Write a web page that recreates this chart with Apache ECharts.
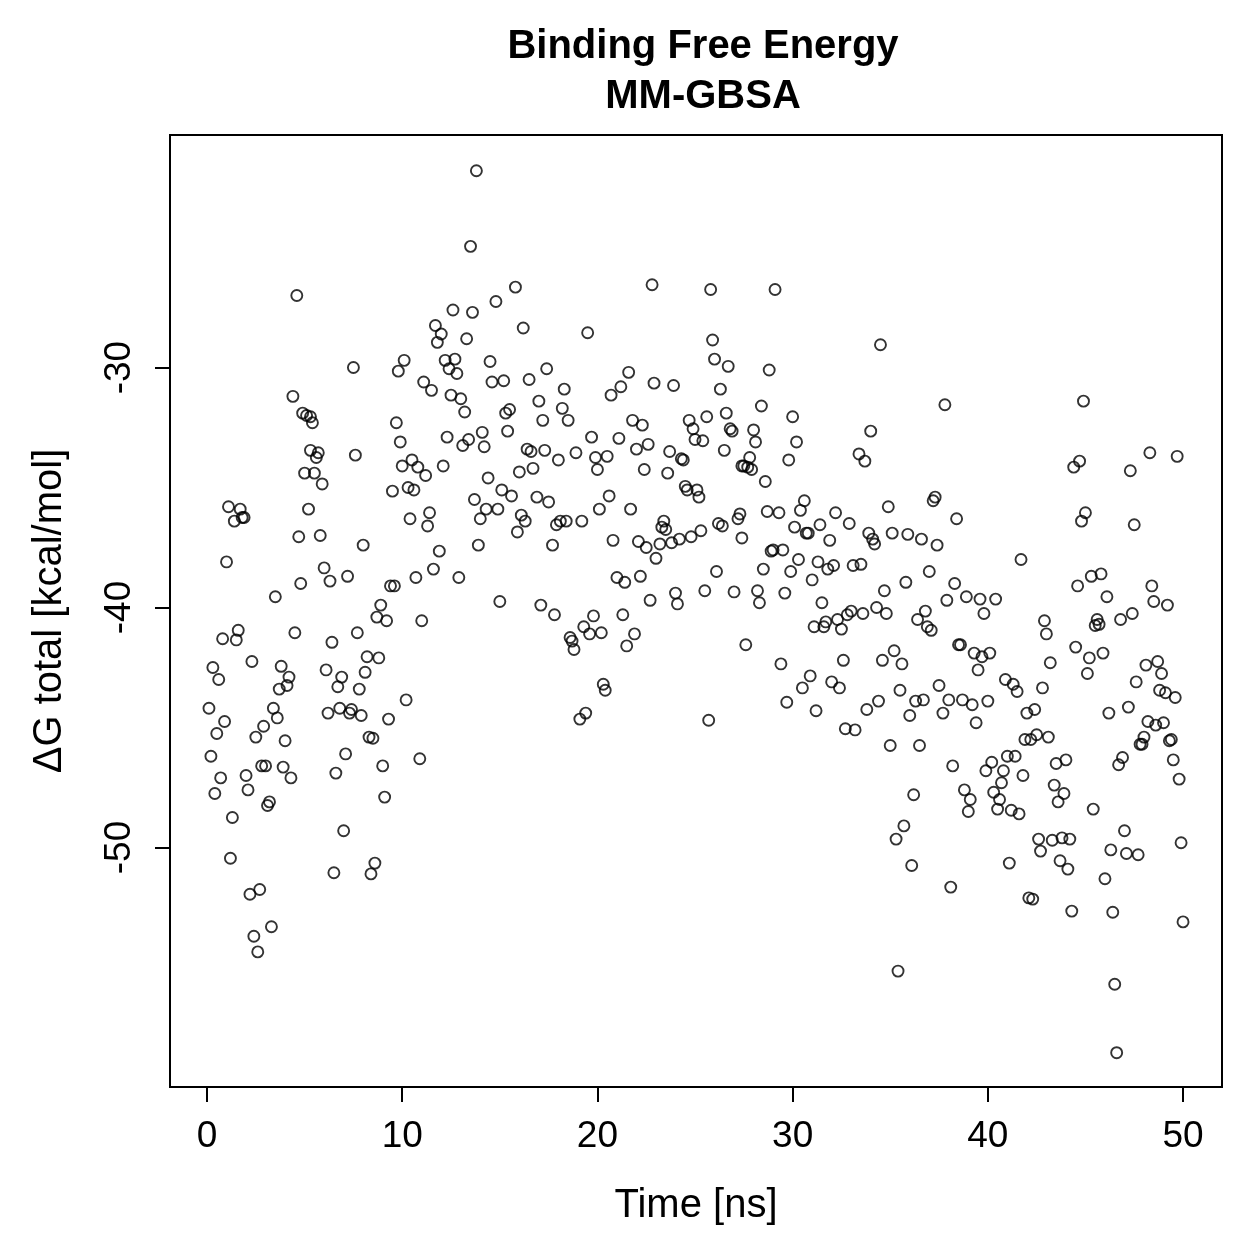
<!DOCTYPE html>
<html>
<head>
<meta charset="utf-8">
<title>Binding Free Energy MM-GBSA</title>
<script src="https://cdn.jsdelivr.net/npm/echarts@6/dist/echarts.min.js"></script>
<style>
  html, body { margin: 0; padding: 0; background: #fff; }
  #main { width: 1259px; height: 1259px; }
</style>
</head>
<body>
<div id="main"></div>
<script>
// time of each frame [ns]
var timeNs = [
  0.1,0.2,0.3,0.4,0.5,0.6,0.7,0.8,0.9,1.0,
  1.1,1.2,1.3,1.4,1.5,1.6,1.7,1.8,1.9,2.0,
  2.1,2.2,2.3,2.4,2.5,2.6,2.7,2.8,2.9,3.0,
  3.1,3.2,3.3,3.4,3.5,3.6,3.7,3.8,3.9,4.0,
  4.1,4.2,4.3,4.4,4.5,4.6,4.7,4.8,4.9,5.0,
  5.1,5.2,5.3,5.3,5.4,5.5,5.6,5.7,5.8,5.9,
  6.0,6.1,6.2,6.3,6.4,6.5,6.6,6.7,6.8,6.9,
  7.0,7.1,7.2,7.3,7.4,7.5,7.6,7.7,7.8,7.9,
  8.0,8.1,8.2,8.3,8.4,8.5,8.6,8.7,8.8,8.9,
  9.0,9.1,9.2,9.3,9.4,9.5,9.6,9.7,9.8,9.9,
  10.0,10.1,10.2,10.3,10.4,10.5,10.6,10.7,10.8,10.9,
  11.0,11.1,11.2,11.3,11.4,11.5,11.6,11.7,11.8,11.9,
  12.0,12.1,12.2,12.3,12.4,12.5,12.6,12.7,12.8,12.9,
  13.0,13.1,13.2,13.3,13.4,13.5,13.6,13.7,13.8,13.9,
  14.0,14.1,14.2,14.3,14.4,14.5,14.6,14.8,14.9,15.0,
  15.1,15.2,15.3,15.4,15.5,15.6,15.8,15.9,16.0,16.1,
  16.2,16.3,16.4,16.5,16.6,16.7,16.9,17.0,17.1,17.2,
  17.3,17.4,17.5,17.7,17.8,17.9,18.0,18.1,18.2,18.3,
  18.4,18.5,18.6,18.7,18.8,18.9,19.1,19.2,19.3,19.4,
  19.5,19.6,19.7,19.8,19.9,20.0,20.1,20.2,20.3,20.4,
  20.5,20.6,20.7,20.8,21.0,21.1,21.2,21.3,21.4,21.5,
  21.6,21.7,21.8,21.9,22.0,22.1,22.2,22.3,22.4,22.5,
  22.6,22.7,22.8,22.9,23.0,23.2,23.3,23.4,23.5,23.6,
  23.7,23.8,23.9,24.0,24.1,24.2,24.3,24.4,24.5,24.6,
  24.7,24.8,24.9,25.0,25.1,25.2,25.3,25.4,25.5,25.6,
  25.7,25.8,25.9,26.0,26.1,26.2,26.3,26.4,26.5,26.6,
  26.7,26.8,26.9,27.0,27.2,27.3,27.4,27.4,27.5,27.6,
  27.7,27.8,27.9,28.0,28.1,28.2,28.3,28.4,28.5,28.6,
  28.7,28.8,28.9,29.0,29.1,29.3,29.4,29.5,29.6,29.7,
  29.8,29.9,30.0,30.1,30.2,30.3,30.4,30.5,30.6,30.7,
  30.8,30.9,31.0,31.1,31.2,31.3,31.4,31.5,31.6,31.7,
  31.8,31.9,32.0,32.1,32.2,32.3,32.4,32.5,32.6,32.7,
  32.8,32.9,33.0,33.1,33.2,33.4,33.5,33.6,33.7,33.8,
  33.9,34.0,34.1,34.2,34.3,34.4,34.5,34.6,34.7,34.8,
  34.9,35.0,35.1,35.2,35.3,35.4,35.5,35.6,35.7,35.8,
  35.9,36.0,36.1,36.2,36.3,36.4,36.5,36.6,36.7,36.8,
  36.9,37.0,37.1,37.2,37.3,37.4,37.5,37.7,37.8,37.9,
  38.0,38.1,38.2,38.3,38.4,38.5,38.6,38.7,38.8,38.9,
  39.0,39.1,39.2,39.3,39.4,39.5,39.6,39.7,39.8,39.9,
  40.0,40.1,40.2,40.3,40.4,40.5,40.6,40.7,40.8,40.9,
  41.0,41.1,41.2,41.3,41.4,41.5,41.6,41.7,41.8,41.9,
  42.0,42.1,42.2,42.3,42.4,42.5,42.6,42.7,42.8,42.9,
  43.0,43.1,43.2,43.3,43.4,43.5,43.6,43.7,43.8,43.9,
  44.0,44.1,44.2,44.3,44.4,44.5,44.6,44.7,44.8,44.9,
  45.0,45.1,45.2,45.3,45.4,45.5,45.6,45.7,45.8,45.9,
  46.0,46.1,46.2,46.3,46.4,46.5,46.6,46.7,46.8,46.9,
  47.0,47.1,47.2,47.3,47.4,47.5,47.6,47.7,47.8,47.9,
  48.0,48.1,48.2,48.3,48.4,48.5,48.6,48.7,48.8,48.9,
  49.0,49.1,49.2,49.3,49.4,49.5,49.6,49.7,49.8,49.9,
  50.0
];

// delta G total [kcal/mol], one per frame
var dGtotal = [
  -44.2,-46.2,-42.5,-47.75,-45.25,-43.0,-47.1,-41.3,-44.75,-38.1,
  -35.8,-50.45,-48.75,-36.4,-41.35,-40.95,-35.9,-36.25,-36.25,-47.0,
  -47.6,-51.95,-42.25,-53.7,-45.4,-54.35,-51.75,-46.6,-44.95,-46.6,
  -48.25,-48.1,-53.3,-44.2,-39.55,-44.6,-43.4,-42.45,-46.65,-45.55,
  -43.25,-42.9,-47.1,-31.2,-41.05,-27.0,-37.05,-39.0,-31.9,-34.4,
  -32.0,-35.9,-32.05,-33.45,-32.3,-34.4,-33.75,-33.55,-37.0,-34.85,
  -38.35,-42.6,-44.4,-38.9,-41.45,-51.05,-46.9,-43.3,-44.2,-42.9,
  -49.3,-46.1,-38.7,-44.4,-44.25,-30.0,-33.65,-41.05,-43.4,-44.5,
  -37.4,-42.7,-42.05,-45.4,-51.1,-45.45,-50.65,-40.4,-42.1,-39.9,
  -46.6,-47.9,-40.55,-44.65,-39.1,-35.15,-39.1,-32.3,-30.15,-33.1,
  -34.1,-29.7,-43.85,-35.0,-36.3,-33.85,-35.1,-38.75,-34.15,-46.3,
  -40.55,-30.6,-34.5,-36.6,-36.05,-30.95,-38.4,-28.25,-28.95,-37.65,
  -28.6,-34.1,-29.7,-32.9,-30.05,-31.15,-27.6,-29.65,-30.25,-38.75,
  -31.3,-33.25,-31.85,-28.8,-33.0,-24.95,-27.7,-35.5,-21.8,-37.4,
  -36.3,-32.7,-33.3,-35.9,-34.6,-29.75,-30.6,-27.25,-35.9,-39.75,
  -35.1,-30.55,-31.9,-32.65,-31.75,-35.35,-26.65,-36.85,-34.35,-36.15,
  -28.35,-36.4,-33.4,-30.5,-33.5,-34.2,-35.4,-31.4,-39.9,-32.2,
  -33.45,-30.05,-35.6,-37.4,-40.3,-36.55,-33.85,-36.4,-31.7,-30.9,
  -36.4,-32.2,-41.25,-41.4,-41.75,-33.55,-44.65,-36.4,-40.8,-44.4,
  -28.55,-41.1,-32.9,-40.35,-33.75,-34.25,-35.9,-41.05,-43.2,-43.45,
  -33.7,-35.35,-31.15,-37.2,-38.75,-32.95,-30.8,-40.3,-38.95,-41.6,
  -30.2,-35.9,-32.2,-41.1,-33.4,-37.25,-38.7,-32.4,-34.25,-37.5,
  -33.2,-39.7,-26.55,-30.65,-37.95,-37.35,-36.65,-36.4,-36.75,-34.4,
  -33.5,-37.3,-30.75,-39.4,-39.85,-37.15,-33.8,-33.85,-34.95,-35.1,
  -32.2,-37.05,-32.55,-33.0,-35.1,-35.4,-36.8,-33.05,-39.3,-32.05,
  -44.7,-26.75,-28.85,-29.65,-38.5,-36.5,-30.9,-36.6,-33.45,-31.9,
  -29.95,-32.55,-32.65,-39.35,-36.3,-36.1,-37.1,-34.1,-34.1,-41.55,
  -34.15,-33.75,-34.25,-32.6,-33.1,-39.3,-39.8,-31.6,-38.4,-34.75,
  -36.0,-30.1,-37.65,-37.6,-26.75,-36.05,-42.35,-37.6,-39.4,-43.95,
  -33.85,-38.5,-32.05,-36.65,-33.1,-38.0,-35.95,-43.35,-35.55,-36.9,
  -36.9,-42.85,-38.85,-40.8,-44.3,-38.1,-36.55,-39.8,-40.8,-40.6,
  -38.4,-37.2,-43.1,-38.25,-36.05,-40.5,-43.35,-40.9,-42.2,-45.05,
  -40.3,-36.5,-40.15,-38.25,-45.1,-33.6,-38.2,-40.25,-33.9,-44.25,
  -36.9,-32.65,-37.15,-37.35,-40.0,-43.9,-29.05,-42.2,-39.3,-40.25,
  -35.8,-45.75,-36.9,-41.8,-49.65,-55.15,-43.45,-42.35,-49.1,-38.95,
  -36.95,-44.5,-50.75,-47.8,-43.9,-40.5,-45.75,-37.15,-43.85,-40.15,
  -40.8,-38.5,-40.95,-35.55,-35.4,-37.4,-43.25,-44.4,-31.55,-39.7,
  -43.85,-51.65,-46.6,-39.0,-36.3,-41.55,-41.55,-43.85,-47.6,-39.55,
  -48.5,-48.0,-44.05,-41.9,-44.8,-42.6,-39.65,-42.05,-40.25,-46.8,
  -43.9,-41.9,-46.45,-47.7,-39.65,-48.4,-48.0,-47.3,-46.8,-43.0,
  -46.2,-50.65,-48.45,-43.2,-46.2,-43.5,-48.6,-38.0,-47.0,-45.5,
  -44.4,-52.1,-45.5,-52.15,-44.25,-45.3,-49.65,-50.15,-43.35,-40.55,
  -41.1,-45.4,-42.3,-49.7,-47.4,-46.5,-48.1,-50.55,-49.6,-47.75,
  -46.35,-50.9,-49.65,-52.65,-34.15,-41.65,-39.1,-33.9,-36.4,-31.4,
  -36.05,-42.75,-42.1,-38.7,-48.4,-40.75,-40.5,-40.7,-38.6,-41.9,
  -51.3,-39.55,-44.4,-50.1,-52.7,-55.7,-58.55,-46.55,-40.5,-46.25,
  -49.3,-50.25,-44.15,-34.3,-40.25,-36.55,-43.1,-50.3,-45.7,-45.7,
  -45.4,-42.4,-44.75,-33.55,-39.1,-39.75,-44.9,-42.25,-43.45,-42.75,
  -44.8,-43.55,-39.9,-45.55,-45.5,-46.35,-43.75,-33.7,-47.15,-49.8,
  -53.1
];

var xTicks = [0, 10, 20, 30, 40, 50];
var yTicks = [-50, -40, -30];

var FONT = 'Liberation Sans, Arial, Helvetica, sans-serif';

var points = [];
for (var i = 0; i < timeNs.length; i++) {
    points.push([timeNs[i], dGtotal[i]]);
}

var myChart = echarts.init(document.getElementById('main'), null, {renderer: 'canvas'});

var option = {
    animation: false,
    backgroundColor: '#ffffff',
    title: {
        text: 'Binding Free Energy\nMM-GBSA',
        left: 698,
        top: 17,
        textAlign: 'center',
        textStyle: {
            fontFamily: FONT,
            fontSize: 40,
            fontWeight: 'bold',
            lineHeight: 50,
            color: '#000'
        }
    },
    grid: {
        left: 170,
        right: 37,
        top: 135,
        bottom: 172,
        show: true,
        borderColor: '#000',
        borderWidth: 2,
        backgroundColor: 'transparent'
    },
    xAxis: {
        type: 'value',
        min: -1.896,
        max: 51.996,
        name: 'Time [ns]',
        nameLocation: 'middle',
        nameGap: 99,
        nameTextStyle: { fontFamily: FONT, fontSize: 40, color: '#000' },
        axisLine: { show: true, onZero: false, lineStyle: { color: '#000', width: 2 } },
        axisTick: { show: true, customValues: xTicks, length: 15, lineStyle: { color: '#000', width: 2 } },
        axisLabel: { customValues: xTicks, fontFamily: FONT, fontSize: 37, color: '#000', margin: 31 },
        splitLine: { show: false }
    },
    yAxis: {
        type: 'value',
        min: -59.98,
        max: -20.31,
        name: 'ΔG total [kcal/mol]',
        nameLocation: 'middle',
        nameGap: 100,
        nameRotate: 90,
        nameTextStyle: { fontFamily: FONT, fontSize: 40, color: '#000' },
        axisLine: { show: true, onZero: false, lineStyle: { color: '#000', width: 2 } },
        axisTick: { show: true, customValues: yTicks, length: 15, lineStyle: { color: '#000', width: 2 } },
        axisLabel: { customValues: yTicks, rotate: 90, fontFamily: FONT, fontSize: 37, color: '#000', margin: 32 },
        splitLine: { show: false }
    },
    series: [
        {
            name: 'dG',
            type: 'scatter',
            symbol: 'circle',
            symbolSize: 11,
            itemStyle: {
                color: 'rgba(0,0,0,0)',
                borderColor: '#000',
                borderWidth: 1.9
            },
            data: points
        }
    ]
};

myChart.setOption(option);
</script>
</body>
</html>
